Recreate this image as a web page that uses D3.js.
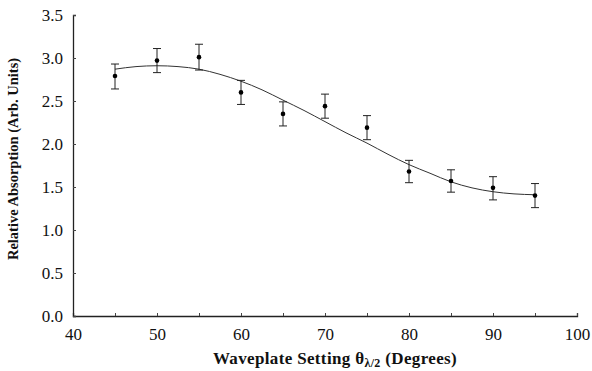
<!DOCTYPE html>
<html>
<head>
<meta charset="utf-8">
<script src="https://cdn.jsdelivr.net/npm/d3@7"></script>
<style>
body{margin:0;background:#fff;}
text{font-family:"Liberation Serif","DejaVu Serif",serif;fill:#111;}
</style>
</head>
<body>
<div id="chart"></div>
<script>
// measured points (waveplate angle, absorption, error bar half width)
var angles=[45,50,55,60,65,70,75,80,85,90,95];
var absorption=[2.79,2.97,3.01,2.60,2.35,2.44,2.19,1.68,1.57,1.49,1.40];
var errLow=[0.15,0.14,0.15,0.14,0.14,0.14,0.14,0.13,0.13,0.14,0.14];
var errHigh=[0.14,0.14,0.15,0.14,0.14,0.14,0.14,0.13,0.13,0.13,0.14];
// fitted curve
var fitX=[45,47.5,50,52.5,55,57.5,60,62.5,65,67.5,70,72.5,75,77.5,80,82.5,85,87.5,90,92.5,95];
var fitY=[2.87,2.90,2.91,2.90,2.87,2.81,2.73,2.63,2.51,2.39,2.26,2.13,2.01,1.88,1.76,1.66,1.56,1.49,1.445,1.42,1.41];
var xTicks=[40,50,60,70,80,90,100];
var yTicks=[0,0.5,1,1.5,2,2.5,3,3.5];

var W=592,H=371;
var m={left:73,right:15,top:15,bottom:55};
var svg=d3.select("#chart").append("svg").attr("width",W).attr("height",H);
var x=d3.scaleLinear().domain([40,100]).range([m.left,W-m.right]);
var y=d3.scaleLinear().domain([0,3.5]).range([H-m.bottom,m.top]);

// axes, ticks point inwards
var xAxis=svg.append("g").attr("transform","translate(0,"+y(0)+")")
	.call(d3.axisBottom(x).tickValues(d3.range(40,101,5)).tickSize(-3).tickPadding(10)
		.tickFormat(function(d){return xTicks.indexOf(d)>=0?d:"";}));
var yAxis=svg.append("g").attr("transform","translate("+x(40)+",0)")
	.call(d3.axisLeft(y).tickValues(yTicks).tickSize(-3).tickPadding(10).tickFormat(d3.format(".1f")));
[xAxis,yAxis].forEach(function(a){
	a.select(".domain").attr("stroke","#222").attr("stroke-width",1.3);
	a.selectAll(".tick line").attr("stroke","#444");
	a.selectAll("text").style("font-size","17px").attr("fill","#111");
});
xAxis.selectAll("text").attr("dy","0.85em");

// fit line
var line=d3.line().x(function(d){return x(d[0]);}).y(function(d){return y(d[1]);}).curve(d3.curveMonotoneX);
svg.append("path").datum(d3.zip(fitX,fitY)).attr("d",line)
	.attr("fill","none").attr("stroke","#333").attr("stroke-width",1);

// error bars + points
var pts=angles.map(function(a,i){return {a:a,v:absorption[i],lo:absorption[i]-errLow[i],hi:absorption[i]+errHigh[i]};});
var g=svg.append("g").selectAll("g").data(pts).enter().append("g");
g.append("line").attr("x1",function(d){return x(d.a);}).attr("x2",function(d){return x(d.a);})
	.attr("y1",function(d){return y(d.lo);}).attr("y2",function(d){return y(d.hi);})
	.attr("stroke","#222").attr("stroke-width",1);
["lo","hi"].forEach(function(k){
	g.append("line").attr("x1",function(d){return x(d.a)-4;}).attr("x2",function(d){return x(d.a)+4;})
		.attr("y1",function(d){return y(d[k]);}).attr("y2",function(d){return y(d[k]);})
		.attr("stroke","#222").attr("stroke-width",1);
});
g.append("circle").attr("cx",function(d){return x(d.a);}).attr("cy",function(d){return y(d.v);})
	.attr("r",2.3).attr("fill","#000");

// titles
svg.append("text").attr("x",335).attr("y",364).attr("text-anchor","middle")
	.style("font-size","17px").style("font-weight","bold").style("letter-spacing","0.35px")
	.html('Waveplate Setting θ<tspan font-size="12px" dy="3">λ/2</tspan><tspan dy="-3"> (Degrees)</tspan>');
svg.append("text").attr("transform","translate(18,159) rotate(-90)")
	.attr("text-anchor","middle").style("font-size","14.5px").style("font-weight","bold")
	.text("Relative Absorption (Arb. Units)");
</script>
</body>
</html>
